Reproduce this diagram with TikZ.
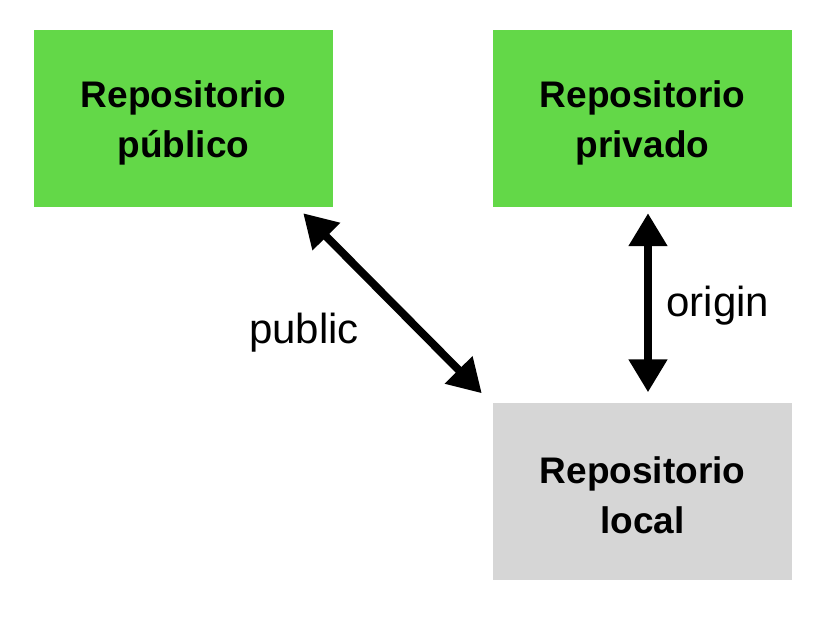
\documentclass[tikz,border=0pt]{standalone}
\usepackage{fontspec}
\setmainfont{Liberation Sans}
\usetikzlibrary{arrows.meta,calc}
\definecolor{boxgreen}{RGB}{99,216,72}
\definecolor{boxgray}{RGB}{214,214,214}
\tikzset{
  repobox/.style={minimum width=299pt, minimum height=177pt, inner sep=0pt, align=center,
    font=\bfseries\fontsize{37}{50}\selectfont},
  repotext/.style={inner sep=0pt, align=center, font=\bfseries\fontsize{37}{50}\selectfont},
  dblarrow/.style={line width=8pt, {Triangle[length=33pt,width=37pt]}-{Triangle[length=33pt,width=37pt]}},
  lbl/.style={font=\fontsize{42}{50}\selectfont, inner sep=0pt}
}
\begin{document}
\begin{tikzpicture}[x=1pt,y=-1pt]
\useasboundingbox (0,0) rectangle (832,628);
\node[repobox, fill=boxgreen] (pub) at (183.5,118.5) {};
\node[repobox, fill=boxgreen] (priv) at (642.5,118.5) {};
\node[repobox, fill=boxgray] (loc) at (642.5,491) {};
\node[repotext] (tpub) at ($(pub.center)+(0,4)$) {Repositorio\\público};
\node[repotext] (tpriv) at ($(priv.center)+(0,4)$) {Repositorio\\privado};
\node[repotext] (tloc) at ($(loc.center)+(0,4)$) {Repositorio\\local};
\draw[dblarrow] ($(pub.south east)+(-30,6)$) -- ($(loc.north west)+(-11,-9)$);
\draw[dblarrow] ($(priv.south)+(5.5,6)$) -- ($(loc.north)+(5.5,-10)$);
\node[lbl] (lpub) at (304,333) {public};
\node[lbl] (lorig) at (718,306) {origin};
\end{tikzpicture}
\end{document}
